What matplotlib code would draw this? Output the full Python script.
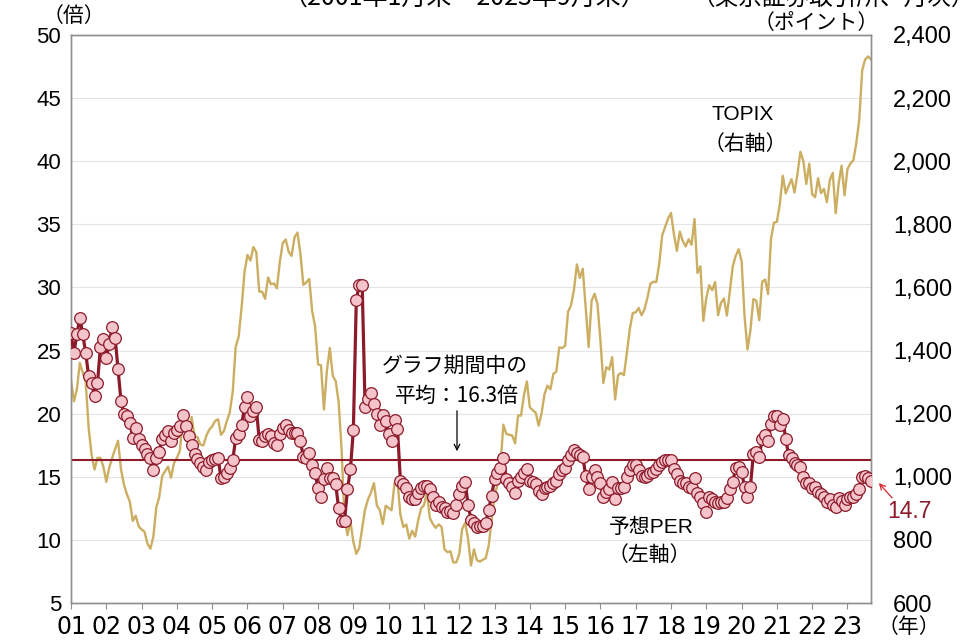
import numpy as np
import matplotlib
matplotlib.use('Agg')
import matplotlib.pyplot as plt
from matplotlib import font_manager as fm

# =========================
# DATA (monthly, Jan 2001 - Sep 2023)
# =========================
year_labels = ['01', '02', '03', '04', '05', '06', '07', '08', '09', '10', '11', '12',
               '13', '14', '15', '16', '17', '18', '19', '20', '21', '22', '23']

# forward PER (left axis, times)
per = [
    26.4, 24.8, 26.3, 27.6, 26.3, 24.8, 23.0, 22.4, 21.4, 22.4, 25.3, 25.9,  # 2001
    24.4, 25.5, 26.9, 26.0, 23.5, 21.0, 20.0, 19.8, 19.3, 18.1, 18.9, 18.0,  # 2002
    17.5, 17.2, 16.8, 16.5, 15.5, 16.5, 17.0, 18.0, 18.3, 18.6, 17.8, 18.5,  # 2003
    18.7, 19.0, 19.9, 19.0, 18.2, 17.5, 16.8, 16.4, 16.1, 15.8, 15.5, 16.2,  # 2004
    16.3, 16.4, 16.5, 14.9, 15.0, 15.3, 15.7, 16.3, 18.1, 18.4, 19.1, 20.5,  # 2005
    21.3, 19.8, 20.2, 20.5, 17.9, 17.8, 18.2, 18.4, 18.2, 17.7, 17.5, 18.4,  # 2006
    18.9, 19.1, 18.7, 18.5, 18.5, 18.5, 17.8, 16.6, 16.5, 16.9, 15.9, 15.3,  # 2007
    14.1, 13.4, 14.8, 15.7, 14.9, 14.9, 14.4, 12.5, 11.5, 11.5, 14.0, 15.6,  # 2008
    18.7, 29.0, 30.2, 30.2, 20.5, 21.2, 21.6, 20.8, 20.0, 19.1, 19.9, 19.4,  # 2009
    18.4, 17.8, 19.5, 18.8, 14.7, 14.4, 14.1, 13.4, 13.2, 13.2, 13.7, 14.1,  # 2010
    14.3, 14.3, 14.0, 13.4, 12.8, 13.0, 12.6, 12.5, 12.2, 12.3, 12.1, 12.8,  # 2011
    13.6, 14.3, 14.6, 12.8, 11.6, 11.3, 11.0, 11.1, 11.1, 11.3, 12.4, 13.5,  # 2012
    14.8, 15.3, 15.7, 16.5, 14.8, 14.5, 14.2, 13.7, 14.7, 15.0, 15.3, 15.6,  # 2013
    14.7, 14.6, 14.4, 13.9, 13.6, 14.1, 14.2, 14.3, 14.5, 14.7, 15.2, 15.5,  # 2014
    15.7, 16.3, 16.7, 17.1, 16.9, 16.7, 16.6, 15.1, 14.0, 15.0, 15.5, 15.0,  # 2015
    14.5, 13.4, 13.8, 14.0, 14.6, 13.2, 14.1, 14.1, 14.2, 15.0, 15.5, 15.9,  # 2016
    15.9, 15.5, 15.1, 15.0, 15.1, 15.3, 15.4, 15.6, 15.9, 16.2, 16.3, 16.3,  # 2017
    16.3, 15.6, 15.2, 14.7, 14.5, 14.5, 14.2, 14.1, 14.9, 13.7, 13.4, 12.9,  # 2018
    12.2, 13.4, 13.2, 13.0, 12.9, 13.0, 13.0, 13.3, 14.0, 14.6, 15.7, 15.8,  # 2019
    15.4, 14.2, 13.4, 14.2, 16.8, 17.0, 16.6, 18.0, 18.3, 17.8, 19.2, 19.8,  # 2020
    19.8, 19.1, 19.6, 18.0, 16.7, 16.5, 16.1, 15.9, 15.8, 15.0, 14.5, 14.5,  # 2021
    14.1, 14.2, 13.8, 13.6, 13.4, 13.0, 13.2, 12.8, 12.6, 13.3, 13.1, 12.8,  # 2022
    13.2, 13.4, 13.4, 13.6, 14.0, 15.0, 15.1, 14.9, 14.7,                    # 2023
]

# TOPIX (right axis, points)
topix = [
    1307, 1239, 1277, 1361, 1330, 1300, 1155, 1070, 1023, 1060, 1060, 1032,  # 2001
    984, 1029, 1060, 1088, 1114, 1024, 975, 945, 921, 860, 877, 843,         # 2002
    833, 826, 788, 772, 810, 903, 936, 1002, 1018, 1032, 997, 1043,          # 2003
    1060, 1082, 1179, 1199, 1140, 1189, 1130, 1125, 1102, 1099, 1130, 1149,  # 2004
    1160, 1177, 1182, 1133, 1145, 1177, 1205, 1271, 1412, 1444, 1536, 1650,  # 2005
    1703, 1685, 1728, 1712, 1587, 1586, 1564, 1632, 1610, 1613, 1597, 1681,  # 2006
    1741, 1752, 1713, 1700, 1759, 1774, 1707, 1608, 1616, 1627, 1525, 1476,  # 2007
    1356, 1353, 1213, 1336, 1408, 1320, 1303, 1237, 1087, 867, 815, 859,     # 2008
    794, 756, 774, 837, 897, 929, 950, 980, 909, 894, 850, 908,              # 2009
    901, 894, 979, 987, 880, 841, 849, 804, 829, 810, 860, 899,              # 2010
    910, 951, 869, 851, 838, 849, 841, 770, 761, 764, 728, 729,              # 2011
    755, 835, 854, 804, 719, 770, 736, 731, 737, 742, 781, 860,              # 2012
    940, 975, 1034, 1165, 1136, 1133, 1131, 1106, 1194, 1194, 1258, 1302,    # 2013
    1220, 1211, 1203, 1162, 1201, 1262, 1289, 1277, 1326, 1333, 1410, 1408,  # 2014
    1415, 1523, 1543, 1592, 1673, 1630, 1659, 1537, 1411, 1558, 1580, 1547,  # 2015
    1432, 1297, 1347, 1340, 1379, 1245, 1322, 1329, 1322, 1393, 1469, 1519,  # 2016
    1521, 1535, 1512, 1531, 1568, 1612, 1618, 1617, 1675, 1765, 1792, 1818,  # 2017
    1836, 1768, 1716, 1777, 1747, 1730, 1753, 1735, 1817, 1646, 1667, 1494,  # 2018
    1567, 1607, 1591, 1617, 1512, 1551, 1565, 1511, 1587, 1667, 1700, 1721,  # 2019
    1684, 1510, 1403, 1464, 1563, 1558, 1496, 1618, 1625, 1579, 1754, 1805,  # 2020
    1808, 1864, 1954, 1898, 1922, 1943, 1901, 1960, 2030, 2001, 1928, 1992,  # 2021
    1895, 1886, 1946, 1899, 1912, 1870, 1940, 1963, 1835, 1929, 1986, 1892,  # 2022
    1975, 1993, 2003, 2057, 2131, 2288, 2322, 2332, 2323,                    # 2023
]

per_mean = 16.3

# =========================
# STYLE
# =========================
red = '#8C1A2A'
pink = '#F5C3CA'
gold = '#CBAE62'
gridc = '#E4E4E4'
spinec = '#8F8F8F'

names = {f.name for f in fm.fontManager.ttflist}
narrow = 'Liberation Sans Narrow' if 'Liberation Sans Narrow' in names else 'DejaVu Sans'
plt.rcParams['font.family'] = ['Liberation Sans', 'Noto Sans CJK JP', 'DejaVu Sans']
jp = ['Noto Sans CJK JP', 'DejaVu Sans']

W, H = 962, 641
fig = plt.figure(figsize=(W / 100, H / 100), dpi=100)
ax = fig.add_axes([71 / W, 38 / H, 800 / W, 568 / H])
ax2 = ax.twinx()
ax.set_zorder(ax2.get_zorder() + 1)
ax.patch.set_visible(False)

x = np.arange(len(per))

# TOPIX behind
ax2.plot(x, topix, color=gold, lw=1.7, zorder=2)
ax2.set_ylim(600, 2400)
ax2.set_yticks(range(600, 2401, 200))
ax2.set_yticklabels([f'{v:,}' for v in range(600, 2401, 200)])
ax2.grid(axis='y', color=gridc, lw=0.8)
ax2.set_axisbelow(True)
ax2.tick_params(axis='y', length=0, pad=16, labelsize=17)

# PER
ax.axhline(per_mean, color=red, lw=1.5, zorder=2)
ax.plot(x, per, color=red, lw=2.3, marker='o', ms=8.4, mfc=pink, mec=red, mew=0.9, zorder=3)
ax.set_ylim(5, 50)
ax.set_yticks(range(5, 51, 5))
ax.tick_params(axis='y', length=0, pad=7, labelsize=16)
ax.set_xlim(0, len(per) - 1)
ax.set_xticks(range(0, 12 * len(year_labels), 12))
ax.set_xticklabels(year_labels)
ax.tick_params(axis='x', length=4.5, width=0.8, color=spinec, pad=4.5, labelsize=17)
for lab in ax.get_xticklabels():
    lab.set_fontfamily(narrow)

for a in (ax, ax2):
    for s in a.spines.values():
        s.set_color(spinec)
        s.set_linewidth(1.0)

# =========================
# TEXTS
# =========================
def px(xp, yp):
    return xp / W, 1 - yp / H

fig.text(*px(465, 5), '（2001年1月末～2023年9月末）', ha='center', va='baseline', fontsize=18, family=jp)
fig.text(*px(833, 5), '（東京証券取引所、月次）', ha='center', va='baseline', fontsize=17, family=jp)
fig.text(*px(74, 16), '（倍）', ha='center', va='center', fontsize=15, family=jp)
fig.text(*px(879, 23), '（ポイント）', ha='right', va='center', fontsize=15, family=jp)
fig.text(*px(909, 627), '（年）', ha='center', va='center', fontsize=15, family=jp)

fig.text(*px(455, 366), 'グラフ期間中の', ha='center', va='center', fontsize=15, family=jp)
fig.text(*px(457, 396), '平均：16.3倍', ha='center', va='center', fontsize=15, family=jp)
ax.annotate('', xy=(457, H - 454), xytext=(457, H - 408), xycoords='figure pixels',
            textcoords='figure pixels', arrowprops=dict(arrowstyle='->', color='black', lw=0.9))

fig.text(*px(712, 114), 'TOPIX', ha='left', va='center', fontsize=15)
fig.text(*px(704, 144), '（右軸）', ha='left', va='center', fontsize=15, family=jp)
fig.text(*px(651, 527), '予想PER', ha='center', va='center', fontsize=15)
fig.text(*px(649, 555), '（左軸）', ha='center', va='center', fontsize=15, family=jp)

fig.text(*px(909, 511), f'{per[-1]:.1f}', ha='center', va='center', fontsize=16.5, color=red)
ax.annotate('', xy=(877, H - 481), xytext=(894, H - 500), xycoords='figure pixels',
            textcoords='figure pixels', arrowprops=dict(arrowstyle='->', color='#D8262E', lw=0.9))

fig.savefig('out.png', dpi=100)
